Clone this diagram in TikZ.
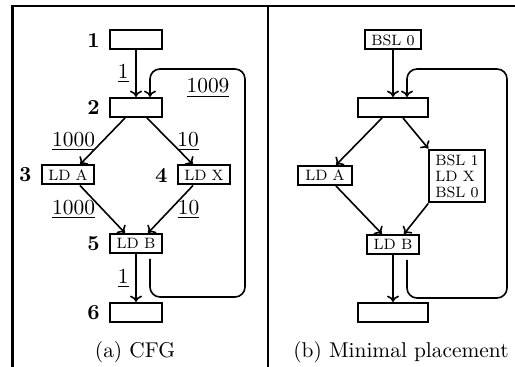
\documentclass[tikz,border=0pt]{standalone}
\usetikzlibrary{arrows.meta, positioning, calc}
\tikzset{
  blk/.style={rectangle, draw, line width=1pt, font=\fontsize{7.5}{8}\selectfont,
              minimum height=9.5pt, inner xsep=3.2pt, inner ysep=1.5pt},
  blka/.style={blk, minimum width=26pt},
  blkb/.style={blk, minimum width=35pt},
  numlbl/.style={font=\fontsize{10.7}{13}\selectfont\bfseries, inner sep=4.5pt},
  cnt/.style={font=\fontsize{10.7}{13}\selectfont},
  arr/.style={-{To[length=3.2pt, width=6pt]}, thick},
  frm/.style={line width=1.2pt},
}
\begin{document}
\begin{tikzpicture}[x=0.5pt, y=-0.5pt]
  \useasboundingbox (0,0) rectangle (515,367);
  % frame
  \draw[frm] (515,6) -- (12.5,6) -- (12.5,367);
  \draw[frm] (268,6) -- (268,367);

  % (a) CFG
  \node[blka, label={[numlbl]left:1}] (a1) at (136,40) {};
  \node[blka, label={[numlbl]left:2}] (a2) at (136,107.5) {};
  \node[blka, label={[numlbl]left:3}] (a3) at (68,175) {LD A};
  \node[blka, label={[numlbl]left:4}] (a4) at (204,175) {LD X};
  \node[blka, label={[numlbl]left:5}] (a5) at (136,243.5) {LD B};
  \node[blka, label={[numlbl]left:6}] (a6) at (136,312.5) {};

  \draw[arr] (a1) -- node[left, cnt] (c12) {\underline{1}} (a2);
  \draw[arr] ([xshift=-5.5pt]a2.south) -- node[left, cnt] (c23) {\underline{1000}} ([xshift=6pt]a3.north);
  \draw[arr] ([xshift=5.5pt]a2.south) -- node[right, cnt] (c24) {\underline{10}} ([xshift=-5.5pt]a4.north);
  \draw[arr] ([xshift=6pt]a3.south) -- node[left, cnt] (c35) {\underline{1000}} ([xshift=-5.5pt]a5.north);
  \draw[arr] ([xshift=-5.5pt]a4.south) -- node[right, cnt] (c45) {\underline{10}} ([xshift=6pt]a5.north);
  \draw[arr] (a5) -- node[left, cnt] (c56) {\underline{1}} (a6);
  \draw[arr, rounded corners=5pt] ([xshift=7pt, yshift=-2.5pt]a5.south) -- ++(0,38)
    -| (245,69) -| ([xshift=7pt]a2.north);
  \node[cnt] (c52) at (208,88) {\underline{1009}};
  \node[cnt] (capa) at (135,352) {(a) CFG};

  % (b) minimal placement
  \node[blk] (b1) at (393,40) {BSL 0};
  \node[blkb] (b2) at (393,107.5) {};
  \node[blk, minimum width=27pt] (b3) at (325,175.5) {LD A};
  \node[blk, align=left, inner xsep=3pt, inner ysep=2.5pt] (b4) at (457,176) {BSL 1\\LD X\\BSL 0};
  \node[blk] (b5) at (393,244.5) {LD B};
  \node[blkb] (b6) at (393,312.5) {};

  \draw[arr] (b1) -- (b2);
  \draw[arr] ([xshift=-5.5pt]b2.south) -- ([xshift=5.5pt]b3.north);
  \draw[arr] ([xshift=5pt]b2.south) -- (b4.north west);
  \draw[arr] ([xshift=5.5pt]b3.south) -- ([xshift=-5.5pt]b5.north);
  \draw[arr] (b4.south west) -- ([xshift=5.5pt]b5.north);
  \draw[arr] (b5) -- (b6);
  \draw[arr, rounded corners=5pt] ([xshift=7pt, yshift=-2.5pt]b5.south) -- ++(0,38)
    -| (507,69) -| ([xshift=7pt]b2.north);
  \node[cnt] (capb) at (401,352) {(b) Minimal placement};
\end{tikzpicture}
\end{document}
